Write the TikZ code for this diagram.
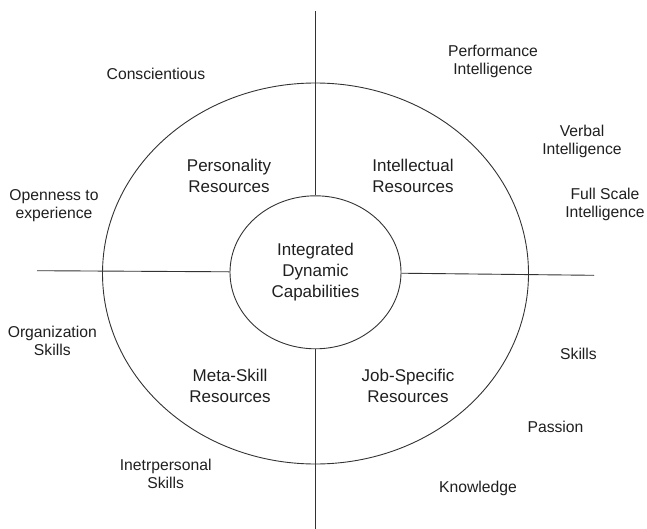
\documentclass[tikz,border=0pt]{standalone}
\usepackage{fontspec}
\setmainfont{Liberation Sans}
\usetikzlibrary{shapes.geometric}
\begin{document}
\begin{tikzpicture}[x=1pt, y=-1pt,
  rule/.style={draw=black!80, line width=0.9pt},
  ringshape/.style={ellipse, draw=black!80, line width=0.9pt, inner sep=0pt},
  outerlabel/.style={align=center, inner sep=0pt, text=black!88,
    font=\fontsize{15.7}{18}\selectfont},
  innerlabel/.style={align=center, inner sep=0pt, text=black!88,
    font=\fontsize{17}{20.8}\selectfont},
]
\useasboundingbox (0,0) rectangle (647,529);

% outer ring and central core
\node[ringshape, minimum width=426pt, minimum height=381pt] (ring) at (315.5,273.5) {};
\node[ringshape, minimum width=171pt, minimum height=153pt, align=center,
      text=black!88, font=\fontsize{17}{20.8}\selectfont] (core) at (315.5,272.3)
      {Integrated\\Dynamic\\Capabilities};

% axes dividing the four quadrants
\coordinate (axisN) at (315.5,11);
\coordinate (axisS) at (315.5,529);
\coordinate (axisW) at (37,270.7);
\coordinate (axisE) at (594,275.3);
\draw[rule] (axisN) -- (core.north);
\draw[rule] (core.south) -- (axisS);
\draw[rule] (axisW) -- (core);
\draw[rule] (core) -- (axisE);

% quadrant resources
\node[innerlabel] (personality) at (229,176) {Personality\\Resources};
\node[innerlabel] (intellectual) at (413,176) {Intellectual\\Resources};
\node[innerlabel] (metaskill) at (230,386) {Meta-Skill\\Resources};
\node[innerlabel] (jobspecific) at (408,386) {Job-Specific\\Resources};

% surrounding attributes
\node[outerlabel] (conscientious) at (156,73.4) {Conscientious};
\node[outerlabel] (openness) at (54,206) {Openness to\\experience};
\node[outerlabel] (performance) at (493,61) {Performance\\Intelligence};
\node[outerlabel] (verbal) at (582,141) {Verbal\\Intelligence};
\node[outerlabel] (fullscale) at (605,204.5) {Full Scale\\Intelligence};
\node[outerlabel] (organization) at (52.3,340.5) {Organization\\Skills};
\node[outerlabel] (skills) at (578.5,354) {Skills};
\node[outerlabel] (passion) at (555.5,427) {Passion};
\node[outerlabel] (interpersonal) at (165.7,474) {Inetrpersonal\\Skills};
\node[outerlabel] (knowledge) at (478,488) {Knowledge};
\end{tikzpicture}
\end{document}
